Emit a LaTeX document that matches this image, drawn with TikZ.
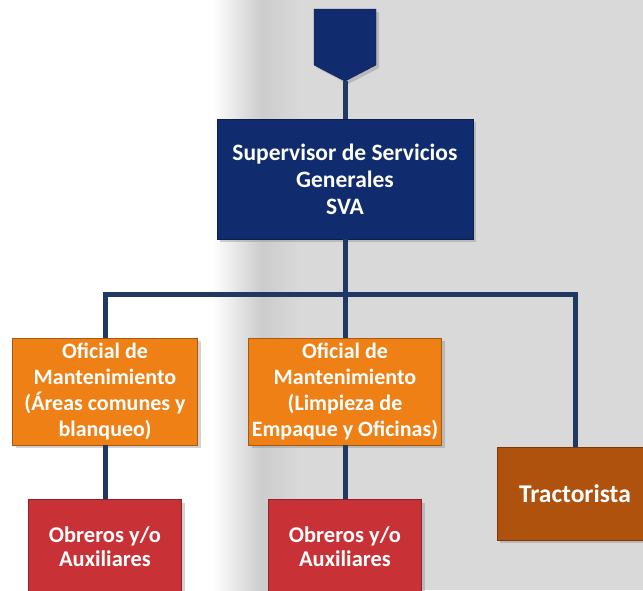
\documentclass[tikz,border=0pt]{standalone}
\usepackage{fontspec}
\setmainfont{Carlito}
\usetikzlibrary{shapes.symbols,shadows}

\definecolor{azul}{RGB}{16,44,110}
\definecolor{linea}{RGB}{31,56,100}
\definecolor{naranja}{RGB}{238,128,22}
\definecolor{rojo}{RGB}{200,50,55}
\definecolor{cafe}{RGB}{174,82,14}
\definecolor{fondo}{RGB}{217,217,217}

\begin{document}
\begin{tikzpicture}[x=1pt,y=-1pt,
  caja/.style={rectangle, draw=#1!70!black, line width=0.8pt, fill=#1, text=white,
    align=center, inner sep=2pt, font=\fontsize{22}{26}\selectfont\bfseries,
    drop shadow={shadow xshift=3pt, shadow yshift=-3pt, opacity=0.35}},
  conector/.style={draw=linea, line width=5pt}]
\useasboundingbox (0,0) rectangle (643,590);
\begin{scope}
\fill[white] (0,0) rectangle (643,590);
\fill[fondo] (262,0) rectangle (643,590);
\shade[left color=white, right color=black!20] (212,0) rectangle (262,590);
\shade[left color=black!20, right color=fondo] (262,0) rectangle (300,590);
\end{scope}

\node[signal, signal to=south, signal pointer angle=125, fill=azul, draw=azul!70!black,
  minimum width=62pt, minimum height=56pt, inner sep=0pt,
  drop shadow={shadow xshift=3pt, shadow yshift=-3pt, opacity=0.35}] (jefe) at (345,37) {};

\node[caja=azul, minimum width=256pt, minimum height=120pt,
  font=\fontsize{23.5}{27}\selectfont\bfseries] (supervisor) at (345,179)
  {Supervisor de Servicios\\Generales\\SVA};
\coordinate (barra) at (345,294);

\node[caja=naranja, minimum width=185pt, minimum height=107pt] (oficial1) at (105,391.5)
  {Oficial de\\Mantenimiento\\(Áreas comunes y\\blanqueo)};
\node[caja=naranja, minimum width=193pt, minimum height=107pt] (oficial2) at (345,391.5)
  {Oficial de\\Mantenimiento\\(Limpieza de\\Empaque y Oficinas)};
\node[caja=cafe, minimum width=156pt, minimum height=93pt,
  font=\fontsize{25.5}{28}\selectfont\bfseries] (tractorista) at (575,493.5)
  {Tractorista};

\foreach \n/\x in {1/105,2/345}
{
\node[caja=rojo, minimum width=153pt, minimum height=95pt,
  font=\fontsize{22.5}{24}\selectfont\bfseries] (obrero\n) at (\x,547)
  {Obreros y/o\\Auxiliares};
\draw[conector] (oficial\n) -- (obrero\n);
}

\draw[conector] (jefe.south) -- (supervisor);
\draw[conector] (supervisor) -- (barra);
\draw[conector] (barra) -| (oficial1);
\draw[conector] (barra) -- (oficial2);
\draw[conector] (barra) -| (tractorista);
\end{tikzpicture}
\end{document}
